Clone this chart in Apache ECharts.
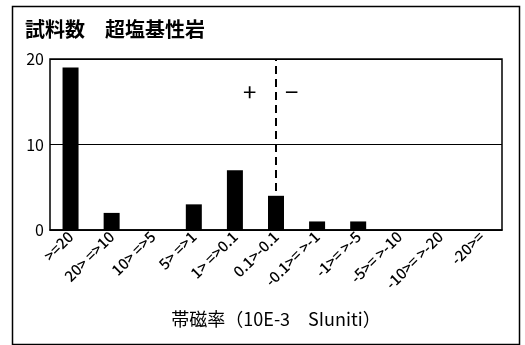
<!DOCTYPE html>
<html><head><meta charset="utf-8">
<script src="https://cdn.jsdelivr.net/npm/echarts@6/dist/echarts.min.js"></script>
<style>html,body{margin:0;padding:0;background:#fff}#c{width:525px;height:345px}</style>
</head><body><div id="c"></div>
<script>
var categories = [">=20", "20> =>10", "10> =>5", "5> =>1", "1> =>0.1", "0.1>-0.1", "-0.1>= >-1", "-1>= >-5", "-5>= >-10", "-10>= >-20", "-20>="];
var counts = [19, 2, 0, 3, 7, 4, 1, 1, 0, 0, 0];
var yTicks = [0, 10, 20];
var titleText = "試料数　超塩基性岩";
var xName = "帯磁率（10E-3　SIuniti）";
var dividerCategory = "0.1>-0.1";
var F = '"Noto Sans CJK JP", "Noto Sans", sans-serif';
var chart = echarts.init(document.getElementById('c'));
chart.setOption({
  animation: false,
  title: {text: titleText, left: 20, top: 14, textStyle: {fontFamily: F, fontSize: 20, fontWeight: 'bold', color: '#000'}},
  grid: {left: 50, right: 23, top: 59, bottom: 115, show: true, borderColor: '#000', borderWidth: 1.5, backgroundColor: 'transparent'},
  xAxis: {
    type: 'category', data: categories,
    axisLine: {lineStyle: {color: '#000', width: 1.5}}, axisTick: {show: false},
    axisLabel: {rotate: 45, interval: 0, fontFamily: F, fontSize: 15, fontWeight: 500, color: '#000', margin: 4},
    name: xName, nameLocation: 'middle', nameGap: 80,
    nameTextStyle: {fontFamily: F, fontSize: 18, color: '#000'}
  },
  yAxis: {
    type: 'value', min: yTicks[0], max: yTicks[yTicks.length - 1], interval: 10,
    axisLine: {show: false}, axisTick: {show: false},
    axisLabel: {fontFamily: F, fontSize: 16, color: '#000', margin: 6},
    splitLine: {lineStyle: {color: '#000', width: 1.2}}
  },
  series: [{
    type: 'bar', data: counts, barWidth: 16, itemStyle: {color: '#000'},
    markLine: {
      silent: true, symbol: 'none', label: {show: false},
      lineStyle: {color: '#000', type: [8, 5], width: 2},
      data: [{xAxis: dividerCategory}]
    }
  }],
  graphic: [
    {type: 'rect', left: 10, top: 4, shape: {width: 507, height: 338}, style: {fill: 'none', stroke: '#000', lineWidth: 1.5}, silent: true},
    {type: 'text', left: 243, top: 80, style: {text: '+', font: '24px ' + F, fill: '#000'}},
    {type: 'text', left: 285, top: 80, style: {text: '−', font: '24px ' + F, fill: '#000'}}
  ]
});
</script></body></html>
